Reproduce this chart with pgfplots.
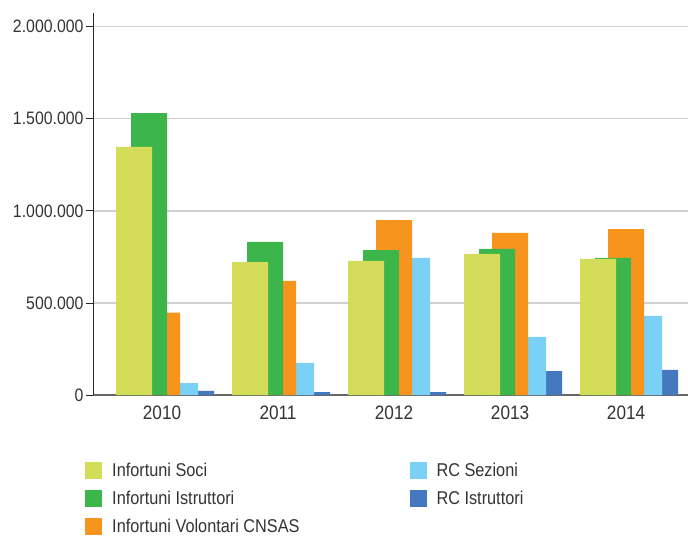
\documentclass[border=0pt]{standalone}
\usepackage{fontspec}
\setmainfont{Liberation Sans}[FakeStretch=0.88]
\usepackage{pgfplots}
\pgfplotsset{compat=1.18}
\definecolor{cSoci}{HTML}{D4DD5A}
\definecolor{cIstr}{HTML}{3CB54A}
\definecolor{cVol}{HTML}{F7941E}
\definecolor{cRCS}{HTML}{7BD0F5}
\definecolor{cRCI}{HTML}{4579BF}
\definecolor{txt}{HTML}{333333}
\begin{document}
\begin{tikzpicture}
\path[use as bounding box] (0pt,0pt) rectangle (688pt,-536pt);
\begin{axis}[
  at={(93pt,-395pt)}, anchor=south west,
  scale only axis, width=595pt, height=382pt,
  xmin=-0.595, xmax=4.534, ymin=0, ymax=2074000,
  axis lines*=left,
  x axis line style={draw=black!60, line width=2pt},
  y axis line style={draw=black!85, line width=1pt},
  xtick={0,1,2,3,4}, xticklabels={2010,2011,2012,2013,2014},
  xtick style={draw=none},
  ytick={0,500000,1000000,1500000,2000000},
  scaled y ticks=false,
  yticklabel style={/pgf/number format/fixed, /pgf/number format/1000 sep={.}, xshift=1pt},
  /pgf/number format/assume math mode=true,
  tick align=outside, major tick length=7pt,
  ytick style={draw=black!85, line width=0.8pt},
  ymajorgrids, major grid style={draw=black!18, line width=1.5pt},
  ticklabel style={font=\fontsize{18}{20}\selectfont, text=txt},
  xticklabel style={font=\fontsize{19.5}{22}\selectfont, yshift=-0.5pt},
  ybar, bar width=36pt,
  legend columns=2,
  legend cell align=left,
  legend style={at={(-0.0134,-0.172)}, anchor=north west, draw=none, fill=none,
    font=\fontsize{18.5}{20}\selectfont, text=txt,
    inner sep=0pt, row sep=9pt,
    /tikz/every odd column/.append style={column sep=8pt},
    /tikz/every even column/.append style={column sep=108pt}},
  legend image code/.code={\fill[#1, draw=none] (0pt,-8.5pt) rectangle (17pt,8.5pt);},
]
\addlegendimage{fill=cSoci}
\addlegendentry{Infortuni Soci}
\addlegendimage{fill=cRCS}
\addlegendentry{RC Sezioni}
\addlegendimage{fill=cIstr}
\addlegendentry{Infortuni Istruttori}
\addlegendimage{fill=cRCI}
\addlegendentry{RC Istruttori}
\addlegendimage{fill=cVol}
\addlegendentry{Infortuni Volontari CNSAS}
% RC Istruttori
\addplot[fill=cRCI, draw=none, bar shift=34pt, forget plot] coordinates {(0,22000) (1,16000) (2,16000) (3,130000) (4,136000)};
% RC Sezioni
\addplot[fill=cRCS, draw=none, bar shift=18pt, forget plot] coordinates {(0,65000) (1,174000) (2,744000) (3,315000) (4,429000)};
% Infortuni Volontari CNSAS
\addplot[fill=cVol, draw=none, bar shift=0pt, forget plot] coordinates {(0,447000) (1,619000) (2,950000) (3,880000) (4,901000)};
% Infortuni Istruttori
\addplot[fill=cIstr, draw=none, bar shift=-13pt, forget plot] coordinates {(0,1531000) (1,831000) (2,787000) (3,793000) (4,744000)};
% Infortuni Soci
\addplot[fill=cSoci, draw=none, bar shift=-28pt, forget plot] coordinates {(0,1347000) (1,722000) (2,728000) (3,766000) (4,739000)};
\end{axis}
\end{tikzpicture}
\end{document}
